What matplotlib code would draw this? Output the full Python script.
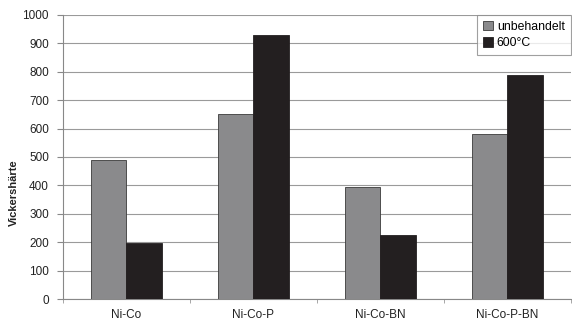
import matplotlib
matplotlib.use("Agg")
import matplotlib.pyplot as plt
import numpy as np

categories = ["Ni-Co", "Ni-Co-P", "Ni-Co-BN", "Ni-Co-P-BN"]
unbehandelt = [490, 650, 395, 582]
c600 = [198, 930, 225, 790]
series_labels = ["unbehandelt", "600°C"]
yticks = [0, 100, 200, 300, 400, 500, 600, 700, 800, 900, 1000]

plt.rcParams['font.family'] = ['Liberation Sans', 'DejaVu Sans']

fig = plt.figure(figsize=(5.72, 3.25), dpi=100)
ax = fig.add_axes([0.110, 0.080, 0.888, 0.874])

x = np.arange(len(categories))
w = 0.28
ax.bar(x - w/2, unbehandelt, w, color="#8a8a8c", edgecolor="#3a3a3a", linewidth=0.6,
       label=series_labels[0], zorder=3)
ax.bar(x + w/2, c600, w, color="#231f20", edgecolor="#231f20", linewidth=0.6,
       label=series_labels[1], zorder=3)

ax.set_xlim(-0.5, len(categories) - 0.5)
ax.set_ylim(0, 1000)
ax.set_yticks(yticks)
ax.set_yticklabels([str(v) for v in yticks], fontsize=8.5, color="#222")
ax.set_xticks(x)
ax.set_xticklabels(categories, fontsize=8.5, color="#222")
ax.tick_params(axis='x', length=0, pad=7)
ax.set_xticks(np.arange(len(categories) + 1) - 0.5, minor=True)
ax.tick_params(axis='x', which='minor', length=3, color="#999")
ax.tick_params(axis='y', length=4, color="#888", pad=6)

ax.yaxis.grid(True, color="#9a9a9a", linewidth=0.8, zorder=0)
ax.set_axisbelow(True)
for s in ["top", "right"]:
    ax.spines[s].set_visible(False)
ax.spines["left"].set_color("#888")
ax.spines["bottom"].set_color("#888")

ax.set_ylabel("Vickershärte", fontsize=8, fontweight="bold", color="#222")
ax.yaxis.set_label_coords(-0.087, 0.373)

leg = ax.legend(loc="upper right", bbox_to_anchor=(1.0, 1.0), borderaxespad=0,
                fontsize=8.8, frameon=True, fancybox=False, edgecolor="#888",
                handlelength=0.8, handleheight=0.8, handletextpad=0.3,
                borderpad=0.5, labelspacing=0.35)
leg.get_frame().set_linewidth(0.8)

fig.savefig("out.png", dpi=100)
